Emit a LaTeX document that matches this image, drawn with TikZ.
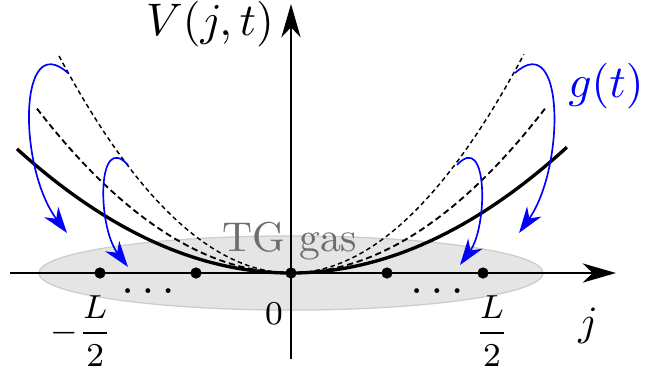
\documentclass[tikz,border=0pt]{standalone}
\usetikzlibrary{arrows.meta,shapes.geometric}
\begin{document}
\begin{tikzpicture}[x=0.24pt,y=0.24pt,
  axis/.style={line width=0.5pt,-{Stealth[length=8pt,width=4.6pt,inset=2.4pt]}},
  gcurve/.style={blue,line width=0.4pt,-{Stealth[length=6.3pt,width=4.2pt,inset=2pt]}},
  site/.style={circle,fill=black,inner sep=0pt,minimum size=2.7pt},
  lbl/.style={font=\footnotesize,inner sep=0pt},
  potA/.style={line width=0.8pt},
  potB/.style={line width=0.45pt,dash pattern=on 1.5pt off 0.9pt},
  potC/.style={line width=0.35pt,dash pattern=on 1.1pt off 0.8pt},
]
\useasboundingbox (-291,-99) rectangle (355,273);
% gas cloud
\node[ellipse,draw=gray!40,fill=gray!20,line width=0.3pt,inner sep=0pt,
      minimum width=121pt,minimum height=17.8pt] (gas) at (0,0) {};
\node[text=black!57,anchor=base] (tg) at (-1,22) {TG gas};
% potentials (parameter in units of 100)
\draw[potA] plot[domain=-2.74:2.76,samples=120,smooth] ({100*\x},{16.53*\x*\x});
\draw[potB] plot[domain=-2.54:2.55,samples=120,smooth] ({100*\x},{25.48*\x*\x});
\draw[potC] plot[domain=-2.32:2.33,samples=120,smooth] ({100*\x},{40.33*\x*\x});
% axes
\coordinate (xl) at (-281,0); \coordinate (xr) at (325,0);
\coordinate (yb) at (0,-86);  \coordinate (yt) at (0,269);
\draw[axis] (xl) -- (xr);
\draw[axis] (yb) -- (yt);
% sites
\node[site] (s1) at (-191,0) {};
\node[site] (s2) at (-95,0) {};
\node[site] (s3) at (0,0) {};
\node[site] (s4) at (96,0) {};
\node[site] (s5) at (192,0) {};
\node[font=\fontsize{11}{13}\selectfont,anchor=base,inner sep=0pt] (dl) at (-143,-20) {$\ldots$};
\node[font=\fontsize{11}{13}\selectfont,anchor=base,inner sep=0pt] (dr) at (146,-20) {$\ldots$};
% quench arrows
\coordinate (lo1) at (-223,200); \coordinate (lo2) at (-224,40);
\coordinate (li1) at (-163,108); \coordinate (li2) at (-163,6);
\coordinate (ro1) at (224,200);  \coordinate (ro2) at (228,40);
\coordinate (ri1) at (166,108);  \coordinate (ri2) at (169,8);
\draw[gcurve] (lo1) .. controls (-273,245) and (-273,105) .. (lo2);
\draw[gcurve] (li1) .. controls (-194,142) and (-194,47) .. (li2);
\draw[gcurve] (ro1) .. controls (274,245) and (274,105) .. (ro2);
\draw[gcurve] (ri1) .. controls (197,142) and (197,47) .. (ri2);
% labels
\node[anchor=base,font=\fontsize{10.7}{13}\selectfont] (V) at (-81,238) {$V(j,t)$};
\node[text=blue,anchor=base,font=\fontsize{11}{13}\selectfont] (g) at (315,176) {$g(t)$};
\node[lbl] (zero) at (-17,-41) {$0$};
\node[anchor=base] (j) at (297,-62) {$j$};
\node[lbl,anchor=east] (lm) at (-178,-58) {$-\displaystyle\frac{L}{2}$};
\node[lbl] (lp) at (201,-58) {$\displaystyle\frac{L}{2}$};
\end{tikzpicture}
\end{document}
